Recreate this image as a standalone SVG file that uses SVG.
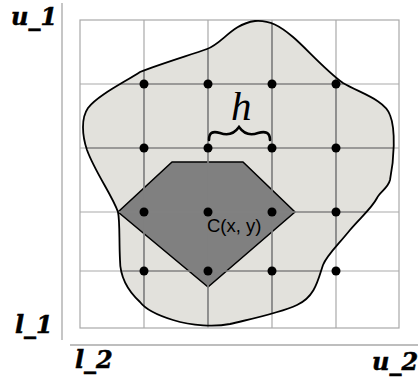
<svg xmlns="http://www.w3.org/2000/svg" width="419" height="378" viewBox="0 0 419 378">
<style>
.grid{stroke:#a9a9a9;stroke-width:1.2;fill:none}
.gridin{stroke:#6f6f6f;stroke-width:1.2;fill:none}
.axis{stroke:#a8a8a8;stroke-width:1.3;fill:none}
.dot{fill:#000}
.lbl{font-family:"DejaVu Serif",serif;font-weight:bold;font-style:italic;font-size:24px;fill:#000;stroke:#000;stroke-width:0.5}
</style>
<defs>
<path id="blob" d="M140,72 C160,64 190,55 207,49 C222,44 232,24 255,21 C270,20 280,26 293,37 C305,47 325,70 343,83 C360,93 385,100 390,115 C396,130 394,160 390,180 C388,188 380,192 377,198 C372,208 360,218 350,230 C338,245 327,255 323,265 C318,280 315,297 297,305 C280,313 255,318 230,324 C215,327 192,326 173,320 C160,316 146,310 140,302 C127,290 120,275 120,260 C119,240 120,222 118,212 C112,195 95,172 87,150 C82,135 81,118 88,108 C98,95 125,82 140,72 Z"/>
<clipPath id="blobclip"><use href="#blob"/></clipPath>
<g id="gridlines">
<line x1="144" y1="20" x2="144" y2="328"/>
<line x1="208" y1="20" x2="208" y2="328"/>
<line x1="272" y1="20" x2="272" y2="328"/>
<line x1="336" y1="20" x2="336" y2="328"/>
<line x1="80" y1="84" x2="399" y2="84"/>
<line x1="80" y1="148" x2="399" y2="148"/>
<line x1="80" y1="212" x2="399" y2="212"/>
<line x1="80" y1="271" x2="399" y2="271"/>
</g>
</defs>
<rect width="419" height="378" fill="#fff"/>
<g id="axes">
<line class="axis" x1="62" y1="3" x2="62" y2="340"/>
<line class="axis" x1="70" y1="345" x2="418" y2="345"/>
</g>
<g id="region">
<use href="#blob" fill="#e2e1dc"/>
</g>
<g id="shape">
<polygon points="118,212 172,162 243,162 295,212 208,287" fill="#808080" stroke="#000" stroke-width="1.6" stroke-linejoin="round"/>
</g>
<g id="grid">
<rect class="grid" x="80" y="20" width="319" height="308"/>
<use href="#gridlines" class="grid"/>
<g clip-path="url(#blobclip)"><use href="#gridlines" class="gridin"/></g>
</g>
<g id="region-outline">
<use href="#blob" fill="none" stroke="#000" stroke-width="1.8"/>
</g>
<g id="points">
<circle class="dot" cx="144" cy="84" r="4.5"/><circle class="dot" cx="208" cy="84" r="4.5"/><circle class="dot" cx="272" cy="84" r="4.5"/><circle class="dot" cx="336" cy="84" r="4.5"/>
<circle class="dot" cx="144" cy="148" r="4.5"/><circle class="dot" cx="208" cy="148" r="4.5"/><circle class="dot" cx="272" cy="148" r="4.5"/><circle class="dot" cx="336" cy="148" r="4.5"/>
<circle class="dot" cx="144" cy="212" r="4.5"/><circle class="dot" cx="208" cy="212" r="4.5"/><circle class="dot" cx="272" cy="212" r="4.5"/><circle class="dot" cx="336" cy="212" r="4.5"/>
<circle class="dot" cx="144" cy="271" r="4.5"/><circle class="dot" cx="208" cy="271" r="4.5"/><circle class="dot" cx="272" cy="271" r="4.5"/><circle class="dot" cx="336" cy="271" r="4.5"/>
</g>
<g id="h-label">
<path d="M209,140 C209,132 213,131 220,133 C228,136 234,134 239,127 C244,134 250,136 258,133 C265,131 270,132 270,140" fill="none" stroke="#000" stroke-width="2.6" stroke-linecap="round"/>
<text x="231" y="120" font-family="'Liberation Serif',serif" font-style="italic" font-size="41">h</text>
</g>
<g id="center-label">
<text x="207" y="232" font-family="'Liberation Sans',sans-serif" font-size="18.5" fill="#000">C(x, y)</text>
</g>
<g id="axis-labels">
<text class="lbl" x="11" y="25">u_1</text>
<text class="lbl" x="15" y="333">l_1</text>
<text class="lbl" x="75" y="368">l_2</text>
<text class="lbl" x="372" y="370">u_2</text>
</g>
</svg>
